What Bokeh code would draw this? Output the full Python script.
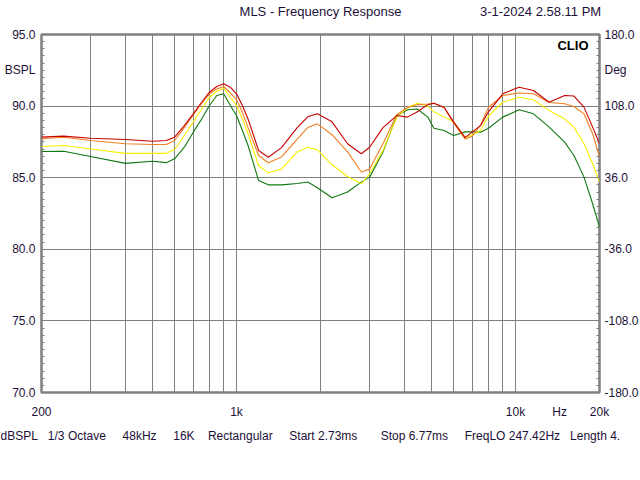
import numpy as np
from bokeh.plotting import figure
from bokeh.models import (Range1d, FixedTicker, LinearAxis, LogAxis, Label, Title)
from bokeh.embed import file_html
from bokeh.resources import INLINE

# ---- data ----
freq = [200, 240, 300, 400, 500, 560,
        600, 650, 700, 750, 800, 850, 900, 950, 1000, 1050, 1100, 1200, 1300, 1450,
        1650, 1800, 1950, 2200, 2500, 2800, 3000, 3350, 3750, 4100, 4450, 4850, 5100,
        5550, 6000, 6600, 7000,
        7500, 8000, 9000, 10300, 11600, 13200, 15000, 16200, 17600, 18900, 20000]

red = [87.83, 87.9, 87.76, 87.67, 87.55, 87.6,
       87.83, 88.64, 89.46, 90.27, 90.97, 91.37, 91.56, 91.32, 90.86, 90.04, 89.1, 86.9,
       86.43, 87.1,
       88.5, 89.25, 89.46, 88.9, 87.37, 86.67, 87.13, 88.5, 89.34, 89.23, 89.6, 90.1,
       90.2, 89.9, 88.9, 87.8, 88.2,
       88.64, 89.6, 90.86, 91.32, 91.09, 90.27, 90.74, 90.7, 89.93, 88.53, 87.37]

orange = [87.72, 87.83, 87.6, 87.37, 87.32, 87.32,
          87.6, 88.5, 89.4, 90.2, 90.86, 91.2, 91.37, 90.93, 90.46, 89.57, 88.5, 86.55,
          86.04, 86.45,
          87.7, 88.5, 88.76, 88.0, 86.8, 85.4, 85.6, 87.37, 89.4, 89.9, 90.1, 90.15,
          90.2, 89.9, 88.8, 87.7, 87.9,
          88.7, 89.9, 90.74, 90.92, 90.86, 90.25, 90.16, 89.97, 89.46, 88.07, 86.43]

yellow = [87.18, 87.25, 87.0, 86.7, 86.7, 86.7,
          86.97, 87.95, 88.9, 89.8, 90.62, 91.04, 91.25, 90.62, 90.04, 89.1, 88.07, 85.85,
          85.34, 85.6,
          86.8, 87.13, 86.95, 85.9, 85.08, 84.57, 85.27, 86.9, 89.2, 89.9, 90.2, 90.0,
          89.6, 89.23, 88.9, 87.8, 88.0,
          88.3, 89.3, 90.27, 90.62, 90.44, 89.7, 89.1, 88.53, 87.37, 85.97, 84.69]

green = [86.83, 86.85, 86.48, 86.0, 86.15, 86.05,
         86.32, 87.13, 88.18, 89.1, 90.04, 90.74, 90.86, 90.04, 89.34, 88.3, 87.25, 84.8,
         84.5, 84.5,
         84.6, 84.7, 84.3, 83.6, 84.0, 84.69, 85.04, 86.8, 89.3, 89.75, 89.8, 89.23,
         88.45, 88.3, 87.95, 88.2, 88.2,
         88.18, 88.45, 89.23, 89.74, 89.46, 88.53, 87.48, 86.55, 85.04, 83.18, 81.55]

y_ticks = [70, 75, 80, 85, 90, 92.5, 95]
left_labels = ["70.0", "75.0", "80.0", "85.0", "90.0", "BSPL", "95.0"]
right_labels = ["-180.0", "-108.0", "-36.0", "36.0", "108.0", "Deg", "180.0"]
x_ticks = [200, 1000, 10000, 14400, 20000]
x_tick_labels = ["200", "1k", "10k", "Hz", "20k"]
x_grid = [300, 400, 500, 600, 700, 800, 900, 1000, 2000, 3000, 4000, 5000, 6000, 7000,
          8000, 9000, 10000]
y_grid = [75, 80, 85, 90]

title_text = "MLS - Frequency Response"
date_text = "3-1-2024 2.58.11 PM"
top_ticks = [2000, 12300]
info_items = ["dBSPL", "1/3 Octave", "48kHz", "16K", "Rectangular", "Start 2.73ms",
              "Stop 6.77ms", "FreqLO 247.42Hz", "Length 4."]
info_gaps = [3, 5, 5, 4, 5, 7, 5, 3]      # non-breaking spaces between items

FONT = "Liberation Sans"
TXT = "#1c1038"
GRID = "#808080"

p = figure(frame_width=558, frame_height=358, x_axis_type="log",
           x_range=Range1d(200, 20000), y_range=Range1d(70, 95),
           output_backend="svg", toolbar_location=None, title=None,
           min_border_left=41, min_border_right=41, min_border_top=34,
           min_border_bottom=72, background_fill_color="white",
           border_fill_color="white")

p.outline_line_color = GRID
p.outline_line_width = 2.5

# grids
p.xgrid.ticker = FixedTicker(ticks=x_grid)
p.ygrid.ticker = FixedTicker(ticks=y_grid)
p.xgrid.grid_line_color = GRID
p.ygrid.grid_line_color = GRID
p.xgrid.grid_line_width = 1
p.ygrid.grid_line_width = 1

minor_y = [float(v) for v in np.arange(70, 95.01, 0.5) if abs(v - 92.5) > 1e-6]

def style_axis(ax, size="12px"):
    ax.major_label_text_font = FONT
    ax.major_label_text_font_size = size
    ax.major_label_text_color = TXT
    ax.axis_line_color = None

# bottom axis
xa = p.xaxis[0]
xa.ticker = FixedTicker(ticks=x_ticks, minor_ticks=[])
xa.major_label_overrides = {t: l for t, l in zip(x_ticks, x_tick_labels)}
xa.major_tick_in = 0
xa.major_tick_out = 0
xa.minor_tick_in = 0
xa.minor_tick_out = 0
xa.major_label_standoff = 12
style_axis(xa)

# left axis
ya = p.yaxis[0]
ya.ticker = FixedTicker(ticks=y_ticks, minor_ticks=minor_y)
ya.major_label_overrides = {t: l for t, l in zip(y_ticks, left_labels)}
ya.major_tick_in = 3
ya.major_tick_out = 0
ya.minor_tick_in = 3
ya.minor_tick_out = 0
ya.major_tick_line_color = GRID
ya.minor_tick_line_color = GRID
ya.major_label_standoff = 6
style_axis(ya)

# right axis (phase scale)
ra = LinearAxis(ticker=FixedTicker(ticks=y_ticks, minor_ticks=minor_y),
                major_label_overrides={t: l for t, l in zip(y_ticks, right_labels)},
                major_tick_in=3, major_tick_out=0, minor_tick_in=3, minor_tick_out=0,
                major_tick_line_color=GRID, minor_tick_line_color=GRID,
                major_label_standoff=5)
style_axis(ra)
p.add_layout(ra, "right")

# top: title and date as labels of a tick-less axis
ta = LogAxis(ticker=FixedTicker(ticks=top_ticks, minor_ticks=[]),
             major_label_overrides={top_ticks[0]: title_text, top_ticks[1]: date_text},
             major_tick_in=0, major_tick_out=0, minor_tick_in=0, minor_tick_out=0,
             major_label_standoff=16)
style_axis(ta, "13px")
p.add_layout(ta, "above")

# info line below
info = info_items[0]
for g, t in zip(info_gaps, info_items[1:]):
    info += "\u00a0" * g + t
it = Title(text=info, align="left", offset=-41, standoff=10, text_font=FONT,
           text_font_size="12px", text_font_style="normal", text_color=TXT)
p.add_layout(it, "below")

# curves
p.line(freq, green, line_color="#107810", line_width=1.1)
p.line(freq, yellow, line_color="#f5f000", line_width=1.1)
p.line(freq, orange, line_color="#f08020", line_width=1.1)
p.line(freq, red, line_color="#c80000", line_width=1.1)

p.add_layout(Label(x=20000, y=95, x_offset=-11, y_offset=-11, text="CLIO",
                   text_align="right", text_baseline="middle", text_font=FONT,
                   text_font_size="13px", text_font_style="bold", text_color="#000000"))

open("out.html", "w").write(file_html(p, INLINE))
